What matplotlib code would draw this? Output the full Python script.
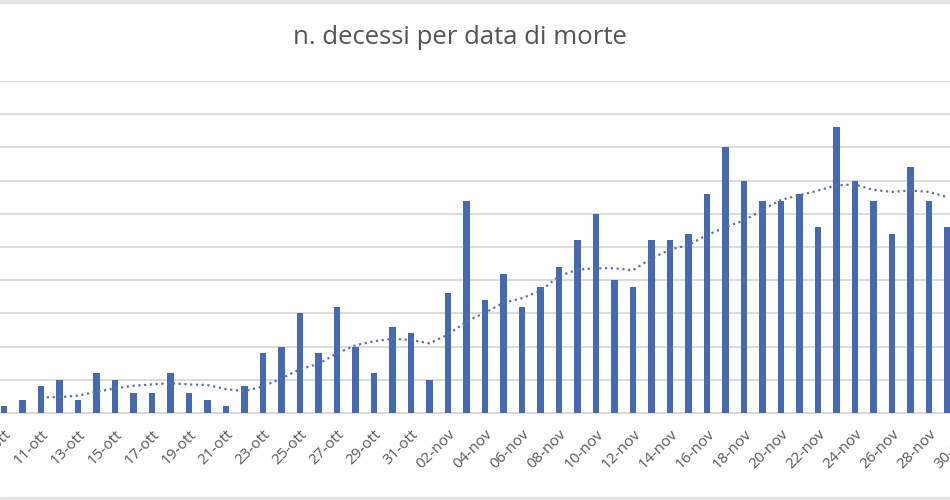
import matplotlib
matplotlib.use("Agg")
import matplotlib.pyplot as plt
from matplotlib.patches import Rectangle

# Data
dates = ["09-ott", "10-ott", "11-ott", "12-ott", "13-ott", "14-ott", "15-ott", "16-ott",
         "17-ott", "18-ott", "19-ott", "20-ott", "21-ott", "22-ott", "23-ott", "24-ott",
         "25-ott", "26-ott", "27-ott", "28-ott", "29-ott", "30-ott", "31-ott", "01-nov",
         "02-nov", "03-nov", "04-nov", "05-nov", "06-nov", "07-nov", "08-nov", "09-nov",
         "10-nov", "11-nov", "12-nov", "13-nov", "14-nov", "15-nov", "16-nov", "17-nov",
         "18-nov", "19-nov", "20-nov", "21-nov", "22-nov", "23-nov", "24-nov", "25-nov",
         "26-nov", "27-nov", "28-nov", "29-nov", "30-nov"]
deaths = [1, 2, 4, 5, 2, 6, 5, 3, 3, 6, 3, 2, 1, 4, 9, 10, 15, 9, 16, 10, 6, 13, 12, 5,
          18, 32, 17, 21, 16, 19, 22, 26, 30, 20, 19, 26, 26, 27, 33, 40, 35, 32, 32, 33,
          28, 43, 35, 32, 27, 37, 32, 28]
# moving average trendline, starts at 11-ott
trend = [2.35, 2.4, 2.6, 3.2, 3.7, 4.1, 4.3, 4.5, 4.3, 4.2, 3.6, 3.3, 4.0, 5.2, 6.6,
         7.4, 9.0, 10.2, 10.8, 11.2, 11.0, 10.5, 11.8, 13.8, 15.1, 16.6, 17.3, 18.4,
         20.6, 21.6, 21.8, 21.8, 21.5, 23.3, 24.6, 25.3, 26.8, 28.0, 29.0, 30.6, 32.1,
         32.8, 33.5, 34.3, 34.4, 33.6, 33.3, 33.5, 33.3, 32.5]
trend_start = 2
title = "n. decessi per data di morte"

W, H = 950, 500
fig = plt.figure(figsize=(W / 100, H / 100), dpi=100)
fig.patch.set_facecolor("white")

# axes placed so that categories extend slightly beyond figure edges (cropped chart)
x0_px, step_px = 4.0, 18.5
lo, hi = -0.5, len(dates) - 0.5
left_px = x0_px + step_px * lo
right_px = x0_px + step_px * hi
top_px, base_px = 81.0, 413.0
ax = fig.add_axes([left_px / W, 1 - base_px / H, (right_px - left_px) / W, (base_px - top_px) / H])

ax.bar(range(len(deaths)), deaths, width=0.36, color="#4569b3", zorder=3)
ax.plot(range(trend_start, trend_start + len(trend)), trend, color="#5a74a8",
        linestyle=(0, (1, 1.6)), linewidth=1.6, zorder=4)

ax.set_xlim(lo, hi)
ax.set_ylim(0, 50)
ax.set_yticks(range(0, 51, 5))
ax.yaxis.grid(True, color="#d9d9d9", linewidth=1.3)
ax.set_axisbelow(True)
ax.tick_params(axis="y", left=False, labelleft=False)
for s in ["top", "right", "left"]:
    ax.spines[s].set_visible(False)
ax.spines["bottom"].set_color("#d9d9d9")
ax.spines["bottom"].set_linewidth(1.3)

ticks = list(range(0, len(dates), 2))
ax.set_xticks(ticks)
ax.set_xticklabels([dates[i] for i in ticks], rotation=45, ha="right",
                   rotation_mode="anchor", fontsize=11, color="#595959",
                   family="Open Sans")
ax.tick_params(axis="x", length=0, pad=10)

fig.text(460 / W, 1 - 38 / H, title, ha="center", va="center", fontsize=18.5,
         color="#555555", family="Open Sans")

# thin grey borders of the screenshot
fig.patches.append(Rectangle((0, 1 - 3 / H), 1, 3 / H, transform=fig.transFigure,
                             color="#e4e4e4", zorder=0))
fig.patches.append(Rectangle((0, 0), 1, 3 / H, transform=fig.transFigure,
                             color="#e4e4e4", zorder=0))

fig.savefig("out.png", dpi=100)
